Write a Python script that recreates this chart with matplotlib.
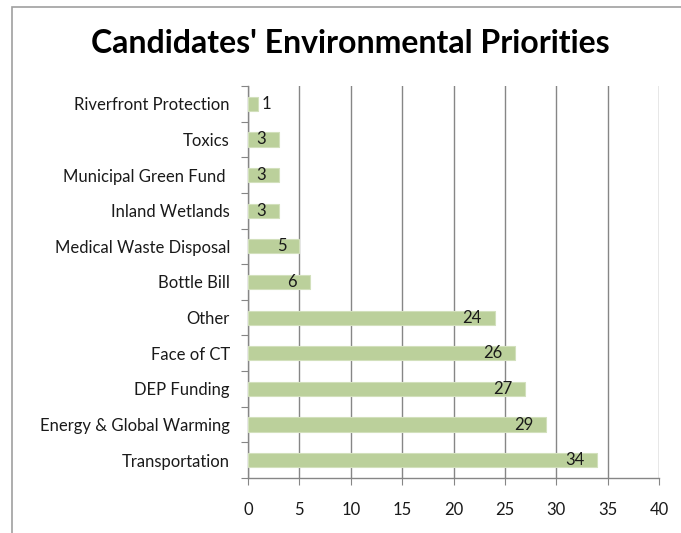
import matplotlib
matplotlib.use("Agg")
import matplotlib.pyplot as plt
from matplotlib.patches import Rectangle

categories = ["Riverfront Protection", "Toxics", "Municipal Green Fund ", "Inland Wetlands",
              "Medical Waste Disposal", "Bottle Bill", "Other", "Face of CT", "DEP Funding",
              "Energy & Global Warming", "Transportation"]
values = [1, 3, 3, 3, 5, 6, 24, 26, 27, 29, 34]
xticks = [0, 5, 10, 15, 20, 25, 30, 35, 40]

plt.rcParams['font.family'] = ['Lato', 'DejaVu Sans']

fig = plt.figure(figsize=(6.81, 5.33), dpi=100)
fig.patches.append(Rectangle((12/681, -0.1), 1.2, 1 - 7/533 + 0.1, transform=fig.transFigure,
                             fill=False, edgecolor='#a0a0a0', linewidth=1.2))
ax = fig.add_axes([248/681, 1 - 478/533, (659-248)/681, (478-86)/533])

fs = 12
grid_c = '#868686'
ypos = list(range(len(categories)))
ax.barh(ypos, values, height=0.4, color='#bbd09b', edgecolor='#d2e0bc', linewidth=0.8, zorder=3)
ax.set_ylim(len(categories) - 0.5, -0.5)
ax.set_xlim(0, 40)
ax.set_yticks([i - 0.5 for i in range(len(categories) + 1)], minor=False)
ax.set_yticklabels([])
ax.set_yticks(ypos, minor=True)
ax.set_yticklabels(categories, minor=True, fontsize=fs, color='#1a1a1a')
ax.tick_params(axis='y', which='major', length=5, color=grid_c, direction='out')
ax.tick_params(axis='y', which='minor', length=0, pad=13)
ax.set_xticks(xticks)
ax.set_xticklabels([str(t) for t in xticks], fontsize=fs, color='#1a1a1a')
ax.tick_params(axis='x', length=5, color=grid_c, direction='out', pad=12)
ax.xaxis.grid(True, color=grid_c, linewidth=1.0, zorder=0)
ax.set_axisbelow(True)
for s in ['top', 'right']:
    ax.spines[s].set_visible(False)
for s in ['left', 'bottom']:
    ax.spines[s].set_color(grid_c)
    ax.spines[s].set_linewidth(1.0)

for y, v in zip(ypos, values):
    if v >= 2:
        ax.text(v - 1.25, y, str(v), ha='right', va='center', fontsize=fs, color='#1a1a1a', zorder=4)
    else:
        ax.text(v + 0.3, y, str(v), ha='left', va='center', fontsize=fs, color='#1a1a1a', zorder=4)

fig.text(350/681, 1 - 43/533, "Candidates' Environmental Priorities", ha='center', va='center',
         fontsize=23, fontweight='bold', color='black')

fig.savefig("out.png", dpi=100)
